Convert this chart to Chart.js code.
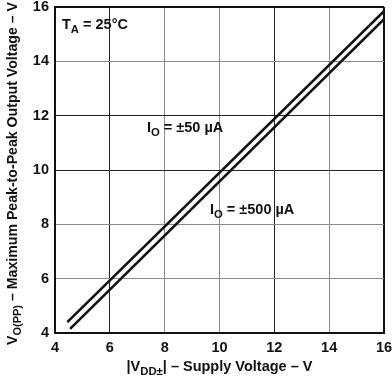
<!DOCTYPE html>
<html>
<head>
<meta charset="utf-8">
<script src="https://cdn.jsdelivr.net/npm/chart.js@4"></script>
<style>
  html, body { margin: 0; padding: 0; background: #fff; }
  #wrap { width: 392px; height: 377px; }
</style>
</head>
<body>
<div id="wrap"><canvas id="vppChart" width="392" height="377"></canvas></div>
<script>
// supply voltage (x) and output swing (y) for the two load currents
const supply50 = [4.45, 16];
const vpp50 = [4.4, 15.85];
const supply500 = [4.55, 16];
const vpp500 = [4.15, 15.55];

const xTicks = [4, 6, 8, 10, 12, 14, 16];
const yTicks = [4, 6, 8, 10, 12, 14, 16];
const darkX = [6, 12];
const darkY = [10, 12];

const FONT = '"Liberation Sans", Arial, sans-serif';

/* draws a run of text with optional subscript pieces */
function drawRich(ctx, parts, x, y, size) {
    parts.forEach(p => {
        const s = p.sub ? size * 0.78 : size;
        ctx.font = 'bold ' + s + 'px ' + FONT;
        ctx.fillText(p.t, x, y + (p.sub ? size * 0.3 : 0));
        x += ctx.measureText(p.t).width;
    });
    return x;
}

function richWidth(ctx, parts, size) {
    let w = 0;
    parts.forEach(p => {
        const s = p.sub ? size * 0.78 : size;
        ctx.font = 'bold ' + s + 'px ' + FONT;
        w += ctx.measureText(p.t).width;
    });
    return w;
}

const labelsPlugin = {
    id: 'labels',
    afterDraw(chart) {
        const ctx = chart.ctx;
        const xs = chart.scales.x;
        ctx.save();
        ctx.fillStyle = '#111';
        ctx.textBaseline = 'alphabetic';
        ctx.textAlign = 'left';

        /* notes inside the plot */
        drawRich(ctx, [{t: 'T'}, {t: 'A', sub: true}, {t: ' = 25°C'}], 62, 29, 14.5);
        drawRich(ctx, [{t: 'I'}, {t: 'O', sub: true}, {t: ' = ±50 µA'}], 147, 132, 14.5);
        drawRich(ctx, [{t: 'I'}, {t: 'O', sub: true}, {t: ' = ±500 µA'}], 210, 214, 14.5);

        /* x axis title */
        const xt = [{t: '|V'}, {t: 'DD±', sub: true}, {t: '| – Supply Voltage – V'}];
        const xw = richWidth(ctx, xt, 14.5);
        drawRich(ctx, xt, (xs.left + xs.right) / 2 - xw / 2, 371, 14.5);

        /* y axis title, rotated and fitted to the height */
        const yt = [{t: 'V'}, {t: 'O(PP)', sub: true}, {t: ' – Maximum Peak-to-Peak Output Voltage – V'}];
        const yw = richWidth(ctx, yt, 14.5);
        ctx.translate(17, 345);
        ctx.rotate(-Math.PI / 2);
        ctx.scale(343 / yw, 1);
        drawRich(ctx, yt, 0, 0, 14.5);
        ctx.restore();
    }
};

function gridColor(dark) {
    return c => {
        const v = c.tick ? c.tick.value : null;
        if (v === 4 || v === 16) return '#111';
        return dark.includes(v) ? '#222' : '#8a8a8a';
    };
}
function gridWidth(c) {
    const v = c.tick ? c.tick.value : null;
    return (v === 4 || v === 16) ? 2 : 1;
}

const ctx = document.getElementById('vppChart');
new Chart(ctx, {
    type: 'scatter',
    data: {
        datasets: [{
            label: 'IO = ±50 µA',
            data: supply50.map((v, i) => ({x: v, y: vpp50[i]})),
            showLine: true,
            borderColor: '#111',
            borderWidth: 2.6,
            pointRadius: 0,
        }, {
            label: 'IO = ±500 µA',
            data: supply500.map((v, i) => ({x: v, y: vpp500[i]})),
            showLine: true,
            borderColor: '#111',
            borderWidth: 2.6,
            pointRadius: 0,
        }],
    },
    options: {
        responsive: false,
        animation: false,
        devicePixelRatio: 1,
        layout: { padding: { top: 7, right: 8, left: 0, bottom: 0 } },
        plugins: { legend: { display: false }, tooltip: { enabled: false } },
        scales: {
            x: {
                type: 'linear',
                min: 4, max: 16,
                afterBuildTicks: s => { s.ticks = xTicks.map(v => ({value: v})); },
                afterFit: s => { s.height = 44; s.paddingLeft = 0; s.paddingRight = 0; },
                grid: { color: gridColor(darkX), lineWidth: gridWidth, drawTicks: false },
                border: { color: '#111', width: 2 },
                ticks: { color: '#111', padding: 6, font: { family: FONT, size: 14.5, weight: 'bold' } },
            },
            y: {
                type: 'linear',
                min: 4, max: 16,
                afterBuildTicks: s => { s.ticks = yTicks.map(v => ({value: v})); },
                afterFit: s => { s.width = 55; s.paddingTop = 0; s.paddingBottom = 0; },
                grid: { color: gridColor(darkY), lineWidth: gridWidth, drawTicks: false },
                border: { color: '#111', width: 2 },
                ticks: { color: '#111', padding: 6, font: { family: FONT, size: 14.5, weight: 'bold' } },
            },
        },
    },
    plugins: [labelsPlugin],
});
</script>
</body>
</html>
